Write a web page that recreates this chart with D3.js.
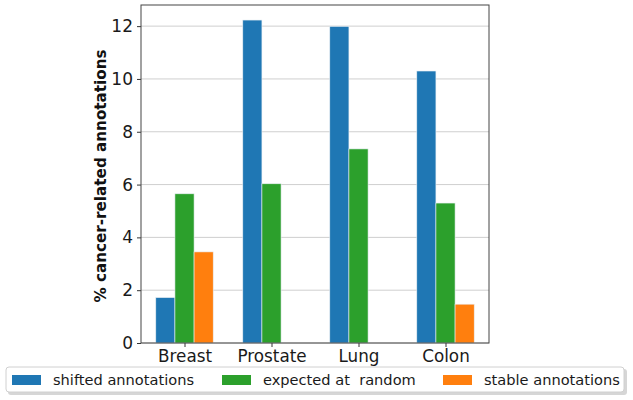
<!DOCTYPE html>
<html><head><meta charset="utf-8">
<script src="https://cdn.jsdelivr.net/npm/d3@7"></script>
<style>body{margin:0;background:#fff}svg{display:block}text{font-family:"DejaVu Sans",sans-serif}</style>
</head><body>
<svg id="c" width="633" height="400"></svg>
<script>
const categories = ["Breast", "Prostate", "Lung", "Colon"];
const seriesNames = ["shifted annotations", "expected at  random", "stable annotations"];
const shifted = [1.72, 12.23, 11.99, 10.3];
const expected = [5.65, 6.03, 7.35, 5.3];
const stable = [3.45, 0, 0, 1.47];
const yTicks = [0, 2, 4, 6, 8, 10, 12];
const colors = ["#1f77b4", "#2ca02c", "#ff7f0e"];
const series = [shifted, expected, stable];

const svg = d3.select("#c");
const L = 141, R = 489, T = 5, B = 343;
const x = d3.scaleLinear().domain([-0.5, 3.5]).range([L, R]);
const y = d3.scaleLinear().domain([0, 12.8]).range([B, T]);
const bw = 0.22;

// grid
svg.append("g").selectAll("line").data(yTicks).join("line")
  .attr("x1", L).attr("x2", R).attr("y1", d => y(d)).attr("y2", d => y(d))
  .attr("stroke", "#cfcfcf").attr("stroke-width", 1);

// bars
series.forEach((vals, si) => {
  svg.append("g").selectAll("rect").data(vals).join("rect")
    .attr("x", (d, i) => x(i + (si - 1) * bw - bw / 2))
    .attr("width", x(bw) - x(0))
    .attr("y", d => y(d))
    .attr("height", d => y(0) - y(d))
    .attr("fill", colors[si])
    .attr("stroke", d => d > 0 ? "#e8eef4" : "none").attr("stroke-width", 0.6);
});

// axes
const yAxis = d3.axisLeft(y).tickValues(yTicks).tickSize(4).tickPadding(4).tickFormat(d3.format("d"));
const gy = svg.append("g").attr("transform", `translate(${L},0)`).call(yAxis);
gy.select(".domain").remove();
gy.selectAll("text").attr("font-size", 17).attr("fill", "#1a1a1a").attr("font-family", "DejaVu Sans");
gy.selectAll("line").attr("stroke", "#333");

const xAxis = d3.axisBottom(x).tickValues([0, 1, 2, 3]).tickFormat(i => categories[i]).tickSize(4).tickPadding(3);
const gx = svg.append("g").attr("transform", `translate(0,${B})`).call(xAxis);
gx.select(".domain").remove();
gx.selectAll("text").attr("font-size", 16.8).attr("fill", "#1a1a1a").attr("font-family", "DejaVu Sans");
gx.selectAll("line").attr("stroke", "#333");

// frame
svg.append("rect").attr("x", L).attr("y", T).attr("width", R - L).attr("height", B - T)
  .attr("fill", "none").attr("stroke", "#444").attr("stroke-width", 1);

// y label
svg.append("text").attr("transform", `translate(106,${(T + B) / 2 + 2}) rotate(-90)`)
  .attr("text-anchor", "middle").attr("font-weight", "bold").attr("font-size", 15.2)
  .attr("fill", "#111").text("% cancer-related annotations");

// legend
const lg = svg.append("g");
lg.append("rect").attr("x", 8).attr("y", 369).attr("width", 619).attr("height", 26).attr("rx", 3)
  .attr("fill", "#bbb").attr("opacity", 0.6);
lg.append("rect").attr("x", 6).attr("y", 367).attr("width", 618).attr("height", 25).attr("rx", 3)
  .attr("fill", "#fff").attr("stroke", "#d0d0d0");
const lx = [12, 222, 443];
seriesNames.forEach((n, i) => {
  lg.append("rect").attr("x", lx[i]).attr("y", 375).attr("width", 29).attr("height", 10).attr("fill", colors[i]);
  lg.append("text").attr("x", lx[i] + 41).attr("y", 385).attr("font-size", 14.6).attr("fill", "#1a1a1a")
    .attr("xml:space", "preserve").style("white-space", "pre").text(n);
});
</script>
</body></html>
